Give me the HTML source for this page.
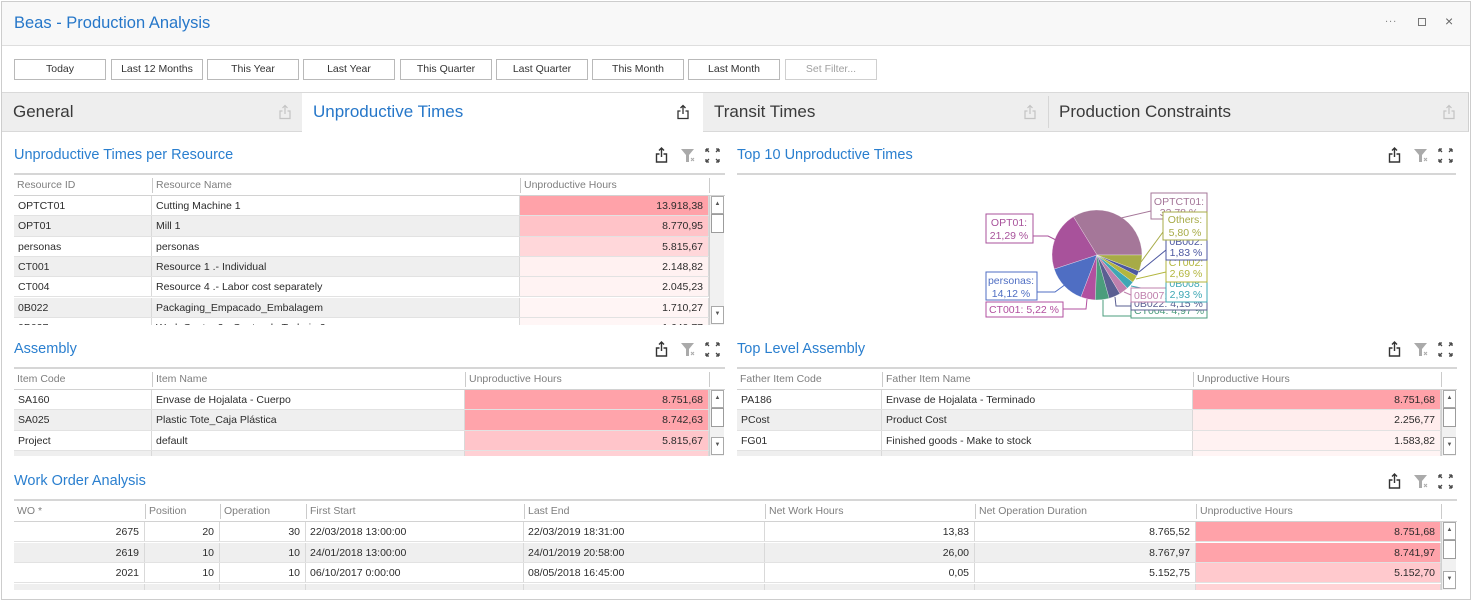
<!DOCTYPE html>
<html><head><meta charset="utf-8">
<style>
*{margin:0;padding:0;box-sizing:border-box}
body{width:1472px;height:602px;overflow:hidden;background:#fff;font-family:"Liberation Sans",sans-serif;position:relative}
.a{position:absolute}
.frame{position:absolute;left:1px;top:1px;width:1470px;height:599px;border:1px solid #cdcdcd}
.btn{position:absolute;top:59px;height:21px;width:92px;border:1px solid #b9b9b9;background:#fff;font-size:10.5px;color:#333;text-align:center;line-height:19px;white-space:nowrap}
.tab{position:absolute;top:93px;height:38px;font-size:17px;line-height:38px;color:#3a3a3a;padding-left:11px;white-space:nowrap}
.ptitle{position:absolute;font-size:14.5px;color:#2a7fcf;white-space:nowrap;line-height:18px}
.tb{position:absolute;overflow:hidden;background:#fff}
.rule{position:absolute;left:0;right:0;top:0;height:2px;background:#d6d6d6}
.hd{position:absolute;left:0;right:0;top:2px;height:21px;border-bottom:1px solid #d2d2d2;background:#fff}
.hc{position:absolute;top:3px;height:15px;border-left:1px solid #cbcbcb;font-size:10.5px;color:#7e7e7e;line-height:15px;padding-left:3px;white-space:nowrap}
.hc.f{border-left:none}
.r{position:absolute;left:0;height:20.3px;border-bottom:1px solid #e2e2e2;background:#fff}
.r.g{background:#efefef}
.c{position:absolute;top:0;bottom:0;border-right:1px solid #d9d9d9;font-size:10.5px;line-height:20px;color:#2c2c2c;padding:0 4px;white-space:nowrap;overflow:hidden}
.c.n{text-align:right;padding-right:5px}
.sb{position:absolute;width:15px;background:#f1f1f1;border-left:1px solid #d0d0d0}
.up,.dn{position:absolute;left:1px;width:13px;height:18px;border:1px solid #a9a9a9;background:#fff;font-size:6px;color:#555;text-align:center;line-height:14px}
.up{top:0}
.dn{bottom:1px}
.th{position:absolute;left:1px;top:18px;width:13px;height:19px;border:1px solid #9c9c9c;background:#fff}
</style></head><body>
<div class="frame"></div>
<!-- title bar -->
<div class="a" style="left:2px;top:2px;width:1468px;height:44px;background:#f8f8f8;border-bottom:1px solid #dedede"></div>
<div class="a" style="left:14px;top:12px;font-size:16.5px;color:#2677c9;white-space:nowrap;line-height:22px">Beas - Production Analysis</div>
<div class="a" style="left:1385px;top:13px;font-size:11px;color:#888;letter-spacing:1px">...</div>
<div class="a" style="left:1418px;top:18px;width:8px;height:8px;border:1px solid #777"></div>
<div class="a" style="left:1445px;top:12px;font-size:14px;color:#666;line-height:18px">×</div>
<!-- filter buttons -->
<div class="btn" style="left:14px">Today</div>
<div class="btn" style="left:111px">Last 12 Months</div>
<div class="btn" style="left:207px">This Year</div>
<div class="btn" style="left:303px">Last Year</div>
<div class="btn" style="left:400px">This Quarter</div>
<div class="btn" style="left:496px">Last Quarter</div>
<div class="btn" style="left:592px">This Month</div>
<div class="btn" style="left:688px">Last Month</div>
<div class="btn" style="left:785px;color:#a0a0a0;border-color:#cfcfcf">Set Filter...</div>
<!-- tab bar -->
<div class="a" style="left:2px;top:92px;width:1467px;height:40px;background:#eeeeee;border-top:1px solid #d9d9d9;border-bottom:1px solid #d9d9d9;border-right:1px solid #d0d0d0"></div>
<div class="tab" style="left:2px;width:300px">General</div>
<div class="tab" style="left:302px;width:401px;background:#fff;height:39px;color:#2677c9">Unproductive Times</div>
<div class="tab" style="left:703px;width:345px">Transit Times</div>
<div class="a" style="left:1048px;top:96px;width:1px;height:32px;background:#d6d6d6"></div>
<div class="tab" style="left:1048px;width:420px">Production Constraints</div>
<!-- tab export icons -->
<svg class="a" style="left:278px;top:104px" width="14" height="16" viewBox="0 0 14 16"><path d="M4.5,7 H2 V14.5 H12 V7 H9.5 M7,1.5 V10 M4.5,4 L7,1.5 L9.5,4" fill="none" stroke="#c4c4c4" stroke-width="1.2"/></svg>
<svg class="a" style="left:676px;top:104px" width="14" height="16" viewBox="0 0 14 16"><path d="M4.5,7 H2 V14.5 H12 V7 H9.5 M7,1.5 V10 M4.5,4 L7,1.5 L9.5,4" fill="none" stroke="#333" stroke-width="1.3"/></svg>
<svg class="a" style="left:1023px;top:104px" width="14" height="16" viewBox="0 0 14 16"><path d="M4.5,7 H2 V14.5 H12 V7 H9.5 M7,1.5 V10 M4.5,4 L7,1.5 L9.5,4" fill="none" stroke="#c4c4c4" stroke-width="1.2"/></svg>
<svg class="a" style="left:1442px;top:104px" width="14" height="16" viewBox="0 0 14 16"><path d="M4.5,7 H2 V14.5 H12 V7 H9.5 M7,1.5 V10 M4.5,4 L7,1.5 L9.5,4" fill="none" stroke="#c4c4c4" stroke-width="1.2"/></svg>

<!-- panel icon sets -->
<svg class="a" style="left:653px;top:146px" width="72" height="18" viewBox="0 0 72 18">
<path d="M6.5,8 H3.5 V16 H13.5 V8 H10.5 M8.5,2 V11 M6,4.5 L8.5,2 L11,4.5" fill="none" stroke="#333" stroke-width="1.4"/>
<polygon points="28,3 41,3 36,9 36,16 33,16 33,9" fill="#aaa"/><path d="M38,12 L41,15 M41,12 L38,15" stroke="#aaa" stroke-width="1"/>
<path d="M53,3 h3 M53,3 v3 M53,3 l3,3 M66,3 h-3 M66,3 v3 M66,3 l-3,3 M53,16 h3 M53,16 v-3 M53,16 l3,-3 M66,16 h-3 M66,16 v-3 M66,16 l-3,-3" stroke="#444" stroke-width="1.3" fill="none"/>
</svg>
<svg class="a" style="left:1386px;top:146px" width="72" height="18" viewBox="0 0 72 18">
<path d="M6.5,8 H3.5 V16 H13.5 V8 H10.5 M8.5,2 V11 M6,4.5 L8.5,2 L11,4.5" fill="none" stroke="#333" stroke-width="1.4"/>
<polygon points="28,3 41,3 36,9 36,16 33,16 33,9" fill="#aaa"/><path d="M38,12 L41,15 M41,12 L38,15" stroke="#aaa" stroke-width="1"/>
<path d="M53,3 h3 M53,3 v3 M53,3 l3,3 M66,3 h-3 M66,3 v3 M66,3 l-3,3 M53,16 h3 M53,16 v-3 M53,16 l3,-3 M66,16 h-3 M66,16 v-3 M66,16 l-3,-3" stroke="#444" stroke-width="1.3" fill="none"/>
</svg>
<svg class="a" style="left:653px;top:340px" width="72" height="18" viewBox="0 0 72 18">
<path d="M6.5,8 H3.5 V16 H13.5 V8 H10.5 M8.5,2 V11 M6,4.5 L8.5,2 L11,4.5" fill="none" stroke="#333" stroke-width="1.4"/>
<polygon points="28,3 41,3 36,9 36,16 33,16 33,9" fill="#aaa"/><path d="M38,12 L41,15 M41,12 L38,15" stroke="#aaa" stroke-width="1"/>
<path d="M53,3 h3 M53,3 v3 M53,3 l3,3 M66,3 h-3 M66,3 v3 M66,3 l-3,3 M53,16 h3 M53,16 v-3 M53,16 l3,-3 M66,16 h-3 M66,16 v-3 M66,16 l-3,-3" stroke="#444" stroke-width="1.3" fill="none"/>
</svg>
<svg class="a" style="left:1386px;top:340px" width="72" height="18" viewBox="0 0 72 18">
<path d="M6.5,8 H3.5 V16 H13.5 V8 H10.5 M8.5,2 V11 M6,4.5 L8.5,2 L11,4.5" fill="none" stroke="#333" stroke-width="1.4"/>
<polygon points="28,3 41,3 36,9 36,16 33,16 33,9" fill="#aaa"/><path d="M38,12 L41,15 M41,12 L38,15" stroke="#aaa" stroke-width="1"/>
<path d="M53,3 h3 M53,3 v3 M53,3 l3,3 M66,3 h-3 M66,3 v3 M66,3 l-3,3 M53,16 h3 M53,16 v-3 M53,16 l3,-3 M66,16 h-3 M66,16 v-3 M66,16 l-3,-3" stroke="#444" stroke-width="1.3" fill="none"/>
</svg>
<svg class="a" style="left:1386px;top:472px" width="72" height="18" viewBox="0 0 72 18">
<path d="M6.5,8 H3.5 V16 H13.5 V8 H10.5 M8.5,2 V11 M6,4.5 L8.5,2 L11,4.5" fill="none" stroke="#333" stroke-width="1.4"/>
<polygon points="28,3 41,3 36,9 36,16 33,16 33,9" fill="#aaa"/><path d="M38,12 L41,15 M41,12 L38,15" stroke="#aaa" stroke-width="1"/>
<path d="M53,3 h3 M53,3 v3 M53,3 l3,3 M66,3 h-3 M66,3 v3 M66,3 l-3,3 M53,16 h3 M53,16 v-3 M53,16 l3,-3 M66,16 h-3 M66,16 v-3 M66,16 l-3,-3" stroke="#444" stroke-width="1.3" fill="none"/>
</svg>

<!-- Panel titles -->
<div class="ptitle" style="left:14px;top:146px">Unproductive Times per Resource</div>
<div class="ptitle" style="left:737px;top:146px">Top 10 Unproductive Times</div>
<div class="ptitle" style="left:14px;top:340px">Assembly</div>
<div class="ptitle" style="left:737px;top:340px">Top Level Assembly</div>
<div class="ptitle" style="left:14px;top:472px">Work Order Analysis</div>

<!-- Table 1 -->
<div class="tb" style="left:14px;top:173px;width:711px;height:152px">
 <div class="rule"></div>
 <div class="hd">
  <div class="hc f" style="left:0">Resource ID</div>
  <div class="hc" style="left:138px">Resource Name</div>
  <div class="hc" style="left:506px">Unproductive Hours</div>
  <div class="hc" style="left:695px;width:1px;padding:0"></div>
 </div>
 <div class="r" style="top:23px;width:695px"><div class="c" style="left:0;width:138px">OPTCT01</div><div class="c" style="left:138px;width:368px">Cutting Machine 1</div><div class="c n" style="left:506px;width:189px;background:#ffa2a9">13.918,38</div></div>
 <div class="r g" style="top:43.3px;width:695px"><div class="c" style="left:0;width:138px">OPT01</div><div class="c" style="left:138px;width:368px">Mill 1</div><div class="c n" style="left:506px;width:189px;background:#ffc3c8">8.770,95</div></div>
 <div class="r" style="top:63.6px;width:695px"><div class="c" style="left:0;width:138px">personas</div><div class="c" style="left:138px;width:368px">personas</div><div class="c n" style="left:506px;width:189px;background:#ffd7da">5.815,67</div></div>
 <div class="r g" style="top:83.9px;width:695px"><div class="c" style="left:0;width:138px">CT001</div><div class="c" style="left:138px;width:368px">Resource 1 .- Individual</div><div class="c n" style="left:506px;width:189px;background:#fff1f1">2.148,82</div></div>
 <div class="r" style="top:104.2px;width:695px"><div class="c" style="left:0;width:138px">CT004</div><div class="c" style="left:138px;width:368px">Resource 4 .- Labor cost separately</div><div class="c n" style="left:506px;width:189px;background:#fff3f3">2.045,23</div></div>
 <div class="r g" style="top:124.5px;width:695px"><div class="c" style="left:0;width:138px">0B022</div><div class="c" style="left:138px;width:368px">Packaging_Empacado_Embalagem</div><div class="c n" style="left:506px;width:189px;background:#fff5f5">1.710,27</div></div>
 <div class="r" style="top:144.8px;width:695px"><div class="c" style="left:0;width:138px">0B027</div><div class="c" style="left:138px;width:368px">Work Center 2 - Centro de Trabajo 2</div><div class="c n" style="left:506px;width:189px;background:#fff6f6">1.640,77</div></div>
 <div class="sb" style="left:695px;top:23px;height:129px"><div class="up">▲</div><div class="th"></div><div class="dn">▼</div></div>
</div>

<!-- Pie chart -->
<svg class="a" style="left:960px;top:185px" width="260" height="140" viewBox="960 185 260 140" font-family="Liberation Sans, sans-serif" font-size="10.5">
 <g stroke="#ffffff" stroke-width="0.5" stroke-opacity="0.6">
 <path d="M1097,255 L1142,255 A45,45 0 0 0 1073.42,216.67 Z" fill="#a57799"/>
 <path d="M1097,255 L1073.42,216.67 A45,45 0 0 0 1054.26,269.09 Z" fill="#a8529b"/>
 <path d="M1097,255 L1054.26,269.09 A45,45 0 0 0 1080.93,297.03 Z" fill="#4f6ec3"/>
 <path d="M1097,255 L1080.93,297.03 A45,45 0 0 0 1095.33,299.97 Z" fill="#b24f9f"/>
 <path d="M1097,255 L1095.33,299.97 A45,45 0 0 0 1109.2,298.32 Z" fill="#4b9d7c"/>
 <path d="M1097,255 L1109.2,298.32 A45,45 0 0 0 1119.95,293.71 Z" fill="#5a5f92"/>
 <path d="M1097,255 L1119.95,293.71 A45,45 0 0 0 1127.29,288.28 Z" fill="#bf80ad"/>
 <path d="M1097,255 L1127.29,288.28 A45,45 0 0 0 1132.86,282.18 Z" fill="#3ea7b4"/>
 <path d="M1097,255 L1132.86,282.18 A45,45 0 0 0 1136.92,275.76 Z" fill="#b3b63e"/>
 <path d="M1097,255 L1136.92,275.76 A45,45 0 0 0 1139.05,271.04 Z" fill="#4c57a0"/>
 <path d="M1097,255 L1139.05,271.04 A45,45 0 0 0 1142,255 Z" fill="#a7ab47"/>
 </g>
 <g fill="none" stroke-width="1">
 <polyline points="1033,236 1048,236 1062,243" stroke="#a8529b"/>
 <polyline points="1151,211 1121,218" stroke="#a57799"/>
 <polyline points="1037,292 1055,292 1066,284" stroke="#4f6ec3"/>
 <polyline points="1063,309 1086,309 1087,299" stroke="#b24f9f"/>
 <polyline points="1131,316 1103,316 1103,300" stroke="#4b9d7c"/>
 <polyline points="1131,306 1116,306 1115,297" stroke="#5a5f92"/>
 <polyline points="1131,295 1124,292" stroke="#bf80ad"/>
 <polyline points="1166,293 1131,286" stroke="#3ea7b4"/>
 <polyline points="1166,272 1136,279" stroke="#b3b63e"/>
 <polyline points="1166,250 1139,272" stroke="#4c57a0"/>
 <polyline points="1163,232 1141,262" stroke="#a7ab47"/>
 </g>
 <!-- right labels -->
 <rect x="1151" y="193" width="56" height="26" fill="#fff" stroke="#a57799"/>
 <text x="1179" y="205" text-anchor="middle" fill="#a57799">OPTCT01:</text>
 <text x="1179" y="216" text-anchor="middle" fill="#a57799">33,78 %</text>
 <rect x="1131" y="303" width="76" height="15" fill="#fff" stroke="#4b9d7c"/>
 <text x="1134" y="314" fill="#4b9d7c">CT004: 4,97 %</text>
 <rect x="1131" y="296" width="76" height="14" fill="#fff" stroke="#5a5f92"/>
 <text x="1134" y="307" fill="#5a5f92">0B022: 4,15 %</text>
 <rect x="1131" y="288" width="76" height="14" fill="#fff" stroke="#bf80ad"/>
 <text x="1134" y="299" fill="#bf80ad">0B007: 3,23 %</text>
 <rect x="1166" y="280" width="41" height="22" fill="#fff" stroke="#3ea7b4"/>
 <text x="1186" y="287" text-anchor="middle" fill="#3ea7b4">0B008:</text>
 <text x="1186" y="298" text-anchor="middle" fill="#3ea7b4">2,93 %</text>
 <rect x="1166" y="258" width="41" height="24" fill="#fff" stroke="#b3b63e"/>
 <text x="1186" y="266" text-anchor="middle" fill="#b3b63e">CT002:</text>
 <text x="1186" y="277" text-anchor="middle" fill="#b3b63e">2,69 %</text>
 <rect x="1166" y="236" width="41" height="24" fill="#fff" stroke="#4c57a0"/>
 <text x="1186" y="245" text-anchor="middle" fill="#4c57a0">0B002:</text>
 <text x="1186" y="256" text-anchor="middle" fill="#4c57a0">1,83 %</text>
 <rect x="1163" y="212" width="44" height="28" fill="#fff" stroke="#a7ab47"/>
 <text x="1185" y="223" text-anchor="middle" fill="#a7ab47">Others:</text>
 <text x="1185" y="236" text-anchor="middle" fill="#a7ab47">5,80 %</text>
 <!-- left labels -->
 <rect x="986" y="214" width="47" height="29" fill="#fff" stroke="#a8529b"/>
 <text x="1009" y="226" text-anchor="middle" fill="#a8529b">OPT01:</text>
 <text x="1009" y="239" text-anchor="middle" fill="#a8529b">21,29 %</text>
 <rect x="986" y="272" width="51" height="28" fill="#fff" stroke="#4f6ec3"/>
 <text x="1011" y="284" text-anchor="middle" fill="#4f6ec3">personas:</text>
 <text x="1011" y="297" text-anchor="middle" fill="#4f6ec3">14,12 %</text>
 <rect x="986" y="302" width="77" height="15" fill="#fff" stroke="#b24f9f"/>
 <text x="1024" y="313" text-anchor="middle" fill="#b24f9f">CT001: 5,22 %</text>
</svg>
<div class="a" style="left:737px;top:173px;width:719px;height:2px;background:#d6d6d6"></div>

<!-- Table Assembly -->
<div class="tb" style="left:14px;top:367px;width:711px;height:89px">
 <div class="rule"></div>
 <div class="hd">
  <div class="hc f" style="left:0">Item Code</div>
  <div class="hc" style="left:138px">Item Name</div>
  <div class="hc" style="left:451px">Unproductive Hours</div>
  <div class="hc" style="left:695px;width:1px;padding:0"></div>
 </div>
 <div class="r" style="top:23px;width:695px"><div class="c" style="left:0;width:138px">SA160</div><div class="c" style="left:138px;width:313px">Envase de Hojalata - Cuerpo</div><div class="c n" style="left:451px;width:244px;background:#ffa2a9">8.751,68</div></div>
 <div class="r g" style="top:43.3px;width:695px"><div class="c" style="left:0;width:138px">SA025</div><div class="c" style="left:138px;width:313px">Plastic Tote_Caja Plástica</div><div class="c n" style="left:451px;width:244px;background:#ffa4ab">8.742,63</div></div>
 <div class="r" style="top:63.6px;width:695px"><div class="c" style="left:0;width:138px">Project</div><div class="c" style="left:138px;width:313px">default</div><div class="c n" style="left:451px;width:244px;background:#ffc5ca">5.815,67</div></div>
 <div class="r g" style="top:83.9px;width:695px"><div class="c" style="left:0;width:138px"></div><div class="c" style="left:138px;width:313px"></div><div class="c n" style="left:451px;width:244px;background:#ffd0d4"></div></div>
 <div class="sb" style="left:695px;top:23px;height:66px"><div class="up">▲</div><div class="th"></div><div class="dn">▼</div></div>
</div>

<!-- Table Top Level Assembly -->
<div class="tb" style="left:737px;top:367px;width:720px;height:89px">
 <div class="rule"></div>
 <div class="hd">
  <div class="hc f" style="left:0">Father Item Code</div>
  <div class="hc" style="left:145px">Father Item Name</div>
  <div class="hc" style="left:456px">Unproductive Hours</div>
  <div class="hc" style="left:704px;width:1px;padding:0"></div>
 </div>
 <div class="r" style="top:23px;width:704px"><div class="c" style="left:0;width:145px">PA186</div><div class="c" style="left:145px;width:311px">Envase de Hojalata - Terminado</div><div class="c n" style="left:456px;width:248px;background:#ffa2a9">8.751,68</div></div>
 <div class="r g" style="top:43.3px;width:704px"><div class="c" style="left:0;width:145px">PCost</div><div class="c" style="left:145px;width:311px">Product Cost</div><div class="c n" style="left:456px;width:248px;background:#ffeded">2.256,77</div></div>
 <div class="r" style="top:63.6px;width:704px"><div class="c" style="left:0;width:145px">FG01</div><div class="c" style="left:145px;width:311px">Finished goods - Make to stock</div><div class="c n" style="left:456px;width:248px;background:#fff2f2">1.583,82</div></div>
 <div class="r g" style="top:83.9px;width:704px"><div class="c" style="left:0;width:145px"></div><div class="c" style="left:145px;width:311px"></div><div class="c n" style="left:456px;width:248px;background:#fff4f4"></div></div>
 <div class="sb" style="left:704px;top:23px;height:66px"><div class="up">▲</div><div class="th"></div><div class="dn">▼</div></div>
</div>

<!-- Work Order table -->
<div class="tb" style="left:14px;top:499px;width:1443px;height:91px">
 <div class="rule"></div>
 <div class="hd">
  <div class="hc f" style="left:0">WO *</div>
  <div class="hc" style="left:131px">Position</div>
  <div class="hc" style="left:206px">Operation</div>
  <div class="hc" style="left:292px">First Start</div>
  <div class="hc" style="left:510px">Last End</div>
  <div class="hc" style="left:751px">Net Work Hours</div>
  <div class="hc" style="left:961px">Net Operation Duration</div>
  <div class="hc" style="left:1182px">Unproductive Hours</div>
  <div class="hc" style="left:1427px;width:1px;padding:0"></div>
 </div>
 <div class="r" style="top:23px;width:1427px"><div class="c n" style="left:0;width:131px">2675</div><div class="c n" style="left:131px;width:75px">20</div><div class="c n" style="left:206px;width:86px">30</div><div class="c" style="left:292px;width:218px">22/03/2018 13:00:00</div><div class="c" style="left:510px;width:241px">22/03/2019 18:31:00</div><div class="c n" style="left:751px;width:210px">13,83</div><div class="c n" style="left:961px;width:221px">8.765,52</div><div class="c n" style="left:1182px;width:245px;background:#ffa2a9">8.751,68</div></div>
 <div class="r g" style="top:43.5px;width:1427px"><div class="c n" style="left:0;width:131px">2619</div><div class="c n" style="left:131px;width:75px">10</div><div class="c n" style="left:206px;width:86px">10</div><div class="c" style="left:292px;width:218px">24/01/2018 13:00:00</div><div class="c" style="left:510px;width:241px">24/01/2019 20:58:00</div><div class="c n" style="left:751px;width:210px">26,00</div><div class="c n" style="left:961px;width:221px">8.767,97</div><div class="c n" style="left:1182px;width:245px;background:#ffa3aa">8.741,97</div></div>
 <div class="r" style="top:64px;width:1427px"><div class="c n" style="left:0;width:131px">2021</div><div class="c n" style="left:131px;width:75px">10</div><div class="c n" style="left:206px;width:86px">10</div><div class="c" style="left:292px;width:218px">06/10/2017 0:00:00</div><div class="c" style="left:510px;width:241px">08/05/2018 16:45:00</div><div class="c n" style="left:751px;width:210px">0,05</div><div class="c n" style="left:961px;width:221px">5.152,75</div><div class="c n" style="left:1182px;width:245px;background:#ffc9cd">5.152,70</div></div>
 <div class="r g" style="top:84.5px;width:1427px"><div class="c n" style="left:0;width:131px"></div><div class="c n" style="left:131px;width:75px"></div><div class="c n" style="left:206px;width:86px"></div><div class="c" style="left:292px;width:218px"></div><div class="c" style="left:510px;width:241px"></div><div class="c n" style="left:751px;width:210px"></div><div class="c n" style="left:961px;width:221px"></div><div class="c n" style="left:1182px;width:245px;background:#ffd3d6"></div></div>
 <div class="sb" style="left:1427px;top:23px;height:68px"><div class="up">▲</div><div class="th"></div><div class="dn">▼</div></div>
</div>
</body></html>
